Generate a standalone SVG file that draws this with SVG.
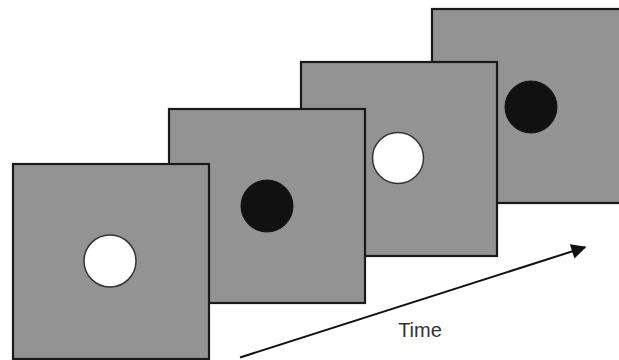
<svg xmlns="http://www.w3.org/2000/svg" width="619" height="360" viewBox="0 0 619 360">
<defs>
<style>
.frame{fill:#939393;stroke:#1a1a1a;stroke-width:2.2}
.white{fill:#ffffff;stroke:#333;stroke-width:1.5}
.black{fill:#111111;stroke:#111;stroke-width:1}
.lbl{font-family:"Liberation Sans",Arial,sans-serif;font-size:20px;fill:#333}
</style>
<marker id="ah" viewBox="0 0 10 10" refX="9" refY="5" markerWidth="17" markerHeight="15" markerUnits="userSpaceOnUse" orient="auto">
<path d="M0,0 L10,5 L0,10 z" fill="#111"/>
</marker>
</defs>
<g id="frame4"><rect class="frame" x="432" y="9" width="196" height="194"/><circle class="black" cx="531" cy="107" r="26"/></g>
<g id="frame3"><rect class="frame" x="301" y="62" width="196" height="194"/><circle class="white" cx="398" cy="158" r="25.5"/></g>
<g id="frame2"><rect class="frame" x="169" y="109" width="196" height="194"/><circle class="black" cx="267" cy="206" r="26"/></g>
<g id="frame1"><rect class="frame" x="13" y="164" width="196" height="195"/><circle class="white" cx="110" cy="261" r="26"/></g>
<g id="connectors"><line x1="240" y1="357.5" x2="585" y2="247.3" stroke="#111" stroke-width="2" marker-end="url(#ah)"/></g>
<g id="label"><text class="lbl" x="420" y="337" text-anchor="middle">Time</text></g>
</svg>
